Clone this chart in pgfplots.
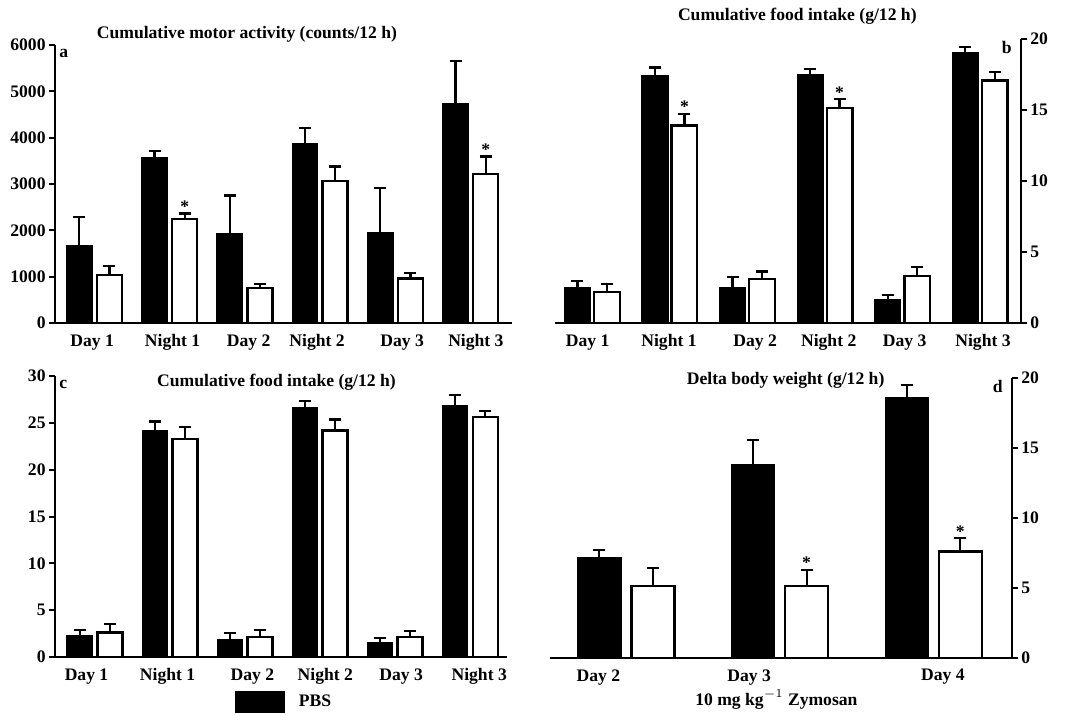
\documentclass[border=0pt]{standalone}
\usepackage{pgfplots}
\pgfplotsset{compat=1.18}
\usepackage{pgfplotstable}
\usepackage{fontspec}
\setmainfont{Liberation Serif}
\newcommand\ff{\fontsize{8.8}{10.5}\selectfont\bfseries}

\pgfplotstableread{
x pbs pbse zym zyme
0 1674 610 1042 194
1 3556 165 2249 115
2 1918 833 754 94
3 3865 345 3068 308
4 1940 969 963 115
5 4727 920 3218 374
}\dataA
\pgfplotstableread{
x pbs pbse zym zyme
0 2.51 0.42 2.18 0.59
1 17.42 0.58 13.92 0.80
2 2.51 0.71 3.10 0.52
3 17.49 0.40 15.14 0.63
4 1.60 0.37 3.29 0.65
5 19.01 0.40 17.09 0.59
}\dataB
\pgfplotstableread{
x pbs pbse zym zyme
0 2.24 0.68 2.60 0.89
1 24.19 0.96 23.26 1.29
2 1.82 0.74 2.14 0.71
3 26.65 0.71 24.19 1.17
4 1.53 0.54 2.14 0.64
5 26.86 1.11 25.61 0.68
}\dataC
\pgfplotstableread{
x pbs pbse zym zyme
0 7.17 0.55 5.15 1.26
1 13.82 1.74 5.15 1.14
2 18.57 0.95 7.60 0.95
}\dataD

\pgfplotsset{
  panel/.style={
    scale only axis,
    axis x line*=bottom,
    axis line style={line width=1pt, black},
    clip=false,
    ymin=0,
    xtick style={draw=none},
    ytick style={line width=1pt, black},
    tick align=outside,
    major tick length=3pt,
    /pgf/number format/assume math mode=true,
    /pgf/number format/1000 sep={},
    tick label style={font=\ff},
    yticklabel style={inner sep=1.5pt},
    xticklabel style={inner sep=1pt, yshift=-1.5pt},
  },
  errstyle/.style={
    error bars/y dir=plus, error bars/y explicit,
    error bars/error bar style={line width=1.1pt, black},
    error bars/error mark options={rotate=90, mark size=3pt, line width=1.1pt, black}},
  pbsbar/.style={ybar, bar shift=0pt, fill=black, draw=black, line width=0.8pt, errstyle},
  zymbar/.style={ybar, bar shift=0pt, fill=white, draw=black, line width=1.2pt, errstyle},
  starplot/.style={draw=none, mark=none, nodes near coords={*},
    every node near coord/.style={anchor=base, yshift=0.5pt, inner sep=0pt, font=\ff}},
}

\begin{document}
\begin{tikzpicture}
\useasboundingbox (0,0) rectangle (533pt,357pt);

% ---------- panel a
\begin{axis}[panel, at={(27.5pt,195.5pt)}, anchor=south west,
  width=228.5pt, height=139pt,
  axis y line*=left,
  xmin=-0.523, xmax=5.55, ymax=6000,
  ytick={0,1000,...,6000},
  xtick={-0.03,1.04,2.05,2.96,4.09,5.07},
  xticklabels={Day 1,Night 1,Day 2,Night 2,Day 3,Night 3},
  bar width=0.333]
\addplot[pbsbar] table[x expr=\thisrow{x}-0.2, y=pbs, y error=pbse] {\dataA};
\addplot[zymbar] table[x expr=\thisrow{x}+0.2, y=zym, y error=zyme] {\dataA};
\addplot[starplot] coordinates {(1.2,2364) (5.2,3592)};
\node[anchor=base, font=\ff] at (rel axis cs:0.42,1) [yshift=3.5pt] {Cumulative motor activity (counts/12 h)};
\node[anchor=north west, inner sep=0pt, font=\ff] at (rel axis cs:0,1) [xshift=2pt, yshift=-2pt] {a};
\end{axis}

% ---------- panel b
\begin{axis}[panel, at={(277.5pt,195.5pt)}, anchor=south west,
  width=233pt, height=142pt,
  axis y line*=right,
  xmin=-0.48, xmax=5.53, ymax=20,
  ytick={0,5,...,20},
  xtick={-0.06,0.99,2.1,3.05,4.03,5.04},
  xticklabels={Day 1,Night 1,Day 2,Night 2,Day 3,Night 3},
  bar width=0.33]
\addplot[pbsbar] table[x expr=\thisrow{x}-0.19, y=pbs, y error=pbse] {\dataB};
\addplot[zymbar] table[x expr=\thisrow{x}+0.19, y=zym, y error=zyme] {\dataB};
\addplot[starplot] coordinates {(1.19,14.72) (3.19,15.77)};
\node[anchor=base, font=\ff] at (rel axis cs:0.52,1) [yshift=9.5pt] {Cumulative food intake (g/12 h)};
\node[anchor=north east, inner sep=0pt, font=\ff] at (rel axis cs:1,1) [xshift=-4.5pt, yshift=-1pt] {b};
\end{axis}

% ---------- panel c
\begin{axis}[panel, at={(27.5pt,28.5pt)}, anchor=south west,
  width=226pt, height=140.5pt,
  axis y line*=left,
  xmin=-0.53, xmax=5.49, ymax=30,
  ytick={0,5,...,30},
  xtick={-0.11,0.97,2.10,3.07,4.08,5.12},
  xticklabels={Day 1,Night 1,Day 2,Night 2,Day 3,Night 3},
  bar width=0.333,
  legend style={at={(rel axis cs:0.398,-0.16)}, anchor=west, draw=none, fill=none,
    font=\ff, inner sep=0pt,
    legend cell align=left},
  ]
\addplot[pbsbar,
  legend image code/.code={\fill[black] (0pt,-5.25pt) rectangle (24pt,5.25pt);}]
  table[x expr=\thisrow{x}-0.2, y=pbs, y error=pbse] {\dataC};
\addlegendentry{\hspace{5pt}PBS}
\addplot[zymbar, forget plot] table[x expr=\thisrow{x}+0.2, y=zym, y error=zyme] {\dataC};
\node[anchor=base, font=\ff] at (rel axis cs:0.49,1) [yshift=-5pt] {Cumulative food intake (g/12 h)};
\node[anchor=north west, inner sep=0pt, font=\ff] at (rel axis cs:0,1) [xshift=2pt, yshift=-2pt] {c};
\end{axis}

% ---------- panel d
\begin{axis}[panel, at={(275pt,28pt)}, anchor=south west,
  width=231pt, height=140pt,
  axis y line*=right,
  xmin=-0.495, xmax=2.51, ymax=20,
  ytick={0,5,...,20},
  xtick={-0.18,0.80,2.06},
  xticklabels={Day 2,Day 3,Day 4},
  bar width=0.28]
\addplot[pbsbar] table[x expr=\thisrow{x}-0.174, y=pbs, y error=pbse] {\dataD};
\addplot[zymbar] table[x expr=\thisrow{x}+0.174, y=zym, y error=zyme] {\dataD};
\addplot[starplot] coordinates {(1.174,6.29) (2.174,8.55)};
\node[anchor=base, font=\ff] at (rel axis cs:0.51,1) [yshift=-3pt] {Delta body weight (g/12 h)};
\node[anchor=north east, inner sep=0pt, font=\ff] at (rel axis cs:1,1) [xshift=-4.5pt, yshift=-1pt] {d};
\node[anchor=base, font=\ff] at (rel axis cs:0.49,0) [yshift=-23.5pt] {10 mg kg$^{-1}$ Zymosan};
\end{axis}
\end{tikzpicture}
\end{document}
